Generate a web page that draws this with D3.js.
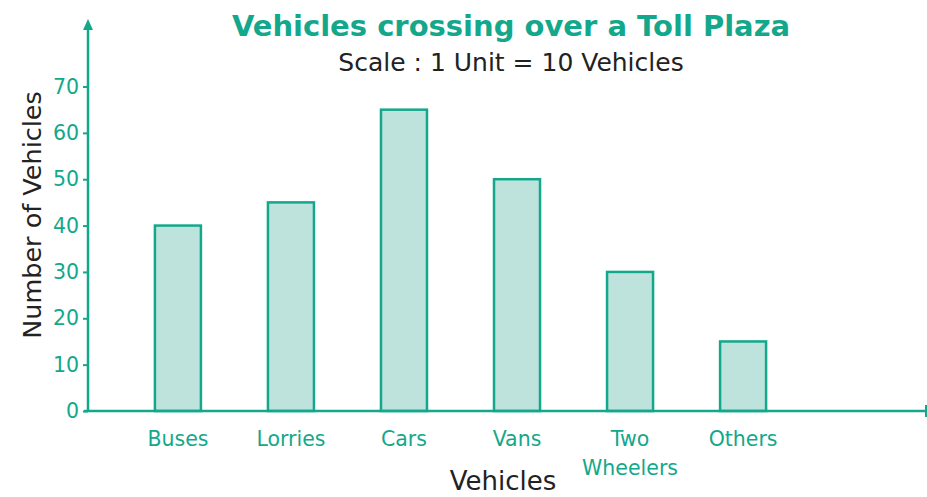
<!DOCTYPE html>
<html>
<head>
<meta charset="utf-8">
<script src="https://cdn.jsdelivr.net/npm/d3@7"></script>
<style>
  html, body { margin: 0; padding: 0; background: #fff; }
  svg { display: block; }
  text { font-family: "DejaVu Sans", Verdana, sans-serif; }
</style>
</head>
<body>
<svg id="chart" width="927" height="497"></svg>
<script>
// Vehicles counted at a toll plaza
const categories = ["Buses", "Lorries", "Cars", "Vans", "Two Wheelers", "Others"];
const vehicleCounts = [40, 45, 65, 50, 30, 15];
const yTicks = [0, 10, 20, 30, 40, 50, 60, 70];

const green = "#13a88b";
const barFill = "#bee3dc";

const svg = d3.select("#chart");

const originX = 88, originY = 411;

const y = d3.scaleLinear().domain([0, 70]).range([originY, 86.5]);
const x = d3.scaleBand()
  .domain(categories)
  .range([121, 800])
  .paddingInner(0.593)
  .paddingOuter(0.3);

// Bars
svg.append("g")
  .selectAll("rect")
  .data(categories)
  .join("rect")
  .attr("x", d => x(d))
  .attr("y", (d, i) => y(vehicleCounts[i]))
  .attr("width", x.bandwidth())
  .attr("height", (d, i) => y(0) - y(vehicleCounts[i]))
  .attr("fill", barFill)
  .attr("stroke", green)
  .attr("stroke-width", 2.5);

// Y axis with arrow
const yAxis = d3.axisLeft(y).tickValues(yTicks).tickSize(5).tickPadding(4);
const gy = svg.append("g").attr("transform", `translate(${originX},0)`).call(yAxis);
gy.select(".domain").remove();
gy.selectAll(".tick line").attr("stroke", green).attr("stroke-width", 2);
gy.selectAll(".tick text")
  .attr("fill", green)
  .style("font-size", "20.5px");

svg.append("line")
  .attr("x1", originX).attr("x2", originX)
  .attr("y1", originY).attr("y2", 26)
  .attr("stroke", green).attr("stroke-width", 2.5);
svg.append("path")
  .attr("d", `M${originX - 5},${30} L${originX},${19} L${originX + 5},${30} Z`)
  .attr("fill", green);

// X axis
svg.append("line")
  .attr("x1", originX - 4).attr("x2", 927)
  .attr("y1", originY).attr("y2", originY)
  .attr("stroke", green).attr("stroke-width", 2.5);
svg.append("line")
  .attr("x1", 926).attr("x2", 926)
  .attr("y1", originY - 6).attr("y2", originY + 6)
  .attr("stroke", green).attr("stroke-width", 2);

// Category labels (multi-line where needed)
const labelLines = {"Two Wheelers": ["Two", "Wheelers"]};
const xl = svg.append("g");
categories.forEach(c => {
  const lines = labelLines[c] || [c];
  const t = xl.append("text")
    .attr("x", x(c) + x.bandwidth() / 2)
    .attr("y", 446)
    .attr("text-anchor", "middle")
    .attr("fill", green)
    .style("font-size", "20.5px");
  lines.forEach((ln, i) => {
    t.append("tspan")
      .attr("x", x(c) + x.bandwidth() / 2)
      .attr("dy", i === 0 ? 0 : 29)
      .text(ln);
  });
});

// Titles
svg.append("text")
  .attr("x", 511).attr("y", 36)
  .attr("text-anchor", "middle")
  .attr("fill", green)
  .style("font-size", "29px")
  .style("font-weight", "bold")
  .text("Vehicles crossing over a Toll Plaza");

svg.append("text")
  .attr("x", 511).attr("y", 71)
  .attr("text-anchor", "middle")
  .attr("fill", "#222")
  .style("font-size", "25px")
  .text("Scale : 1 Unit = 10 Vehicles");

// Axis titles
svg.append("text")
  .attr("x", 503).attr("y", 490)
  .attr("text-anchor", "middle")
  .attr("fill", "#222")
  .style("font-size", "26px")
  .text("Vehicles");

svg.append("text")
  .attr("transform", "translate(41,215) rotate(-90)")
  .attr("text-anchor", "middle")
  .attr("fill", "#222")
  .style("font-size", "25.5px")
  .text("Number of Vehicles");
</script>
</body>
</html>
